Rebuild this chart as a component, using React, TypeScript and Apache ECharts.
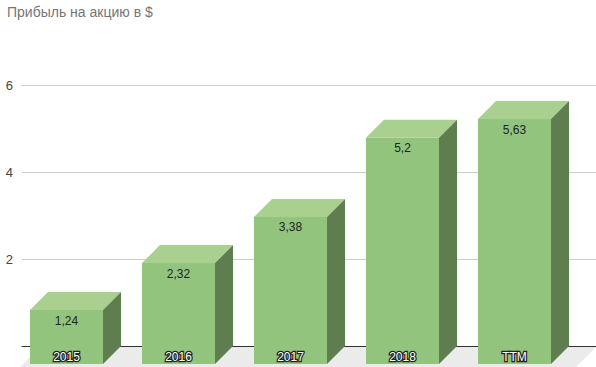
import React, { useEffect, useRef } from "react";
import * as echarts from "echarts";

const categories = ["2015", "2016", "2017", "2018", "TTM"];
const eps = [1.24, 2.32, 3.38, 5.2, 5.63];
const valueLabels = ["1,24", "2,32", "3,38", "5,2", "5,63"];
const yTicks = [0, 2, 4, 6];

const W = 596;
const H = 367;
const FONT = "Arial, 'Liberation Sans', sans-serif";
const DEPTH = 18;
const GRID_TOP = 85;
const GRID_BOTTOM = 21;
const FRONT = "#93c47d";
const TOP = "#a9d08f";
const SIDE = "#5e7e4f";

export default function App() {
  const ref = useRef<HTMLDivElement>(null);
  useEffect(() => {
    if (!ref.current) return;
    const chart = echarts.init(ref.current, undefined, { renderer: "svg" });
    const data = eps.map((v, i) => [i, v]);
    chart.setOption({
      animation: false,
      title: {
        text: "Прибыль на акцию в $",
        left: 2,
        top: 0,
        textStyle: { fontFamily: FONT, fontSize: 14, fontWeight: "normal", color: "#757575" },
      },
      grid: [
        { left: 22, right: 0, top: GRID_TOP, bottom: GRID_BOTTOM },
        { left: 10.5, right: 25.5, top: GRID_TOP, bottom: GRID_BOTTOM },
      ],
      xAxis: [
        {
          gridIndex: 0,
          type: "category",
          data: categories,
          axisLine: { show: true, lineStyle: { color: "#333333", width: 1 } },
          axisTick: { show: false },
          axisLabel: { show: false },
        },
        {
          gridIndex: 1,
          type: "category",
          data: categories,
          show: false,
        },
      ],
      yAxis: [
        {
          gridIndex: 0,
          type: "value",
          min: yTicks[0],
          max: yTicks[yTicks.length - 1],
          interval: 2,
          axisLine: { show: false },
          axisTick: { show: false },
          splitLine: { lineStyle: { color: "#cccccc", width: 1 } },
          axisLabel: {
            formatter: (v: number) => (v === 0 ? "" : String(v)),
            color: "#444444",
            fontFamily: FONT,
            fontSize: 13,
            margin: 9,
            padding: [14, 0, 0, 0],
          },
        },
        {
          gridIndex: 1,
          type: "value",
          min: yTicks[0],
          max: yTicks[yTicks.length - 1],
          interval: 2,
          show: false,
        },
      ],
      series: [
        {
          type: "custom",
          xAxisIndex: 1,
          yAxisIndex: 1,
          data,
          renderItem: (params: any, api: any) => {
            const idx = api.value(0);
            const v = api.value(1);
            const [cx, yTop] = api.coord([idx, v]);
            const [, y0] = api.coord([idx, 0]);
            const band = api.size([1, 0])[0];
            const w = band * 0.652;
            const d = DEPTH;
            const x0 = cx - w / 2;
            const x1 = cx + w / 2;
            const children: any[] = [];
            if (params.dataIndex === 0) {
              const left = 22;
              children.push({
                type: "polygon",
                shape: {
                  points: [
                    [left + d, y0 + 1],
                    [W, y0 + 1],
                    [W - 20, y0 + 21],
                    [left - 2, y0 + 21],
                  ],
                },
                style: { fill: "#ebebeb" },
              });
            }
            children.push({
              type: "rect",
              shape: { x: x0, y: yTop + d, width: w, height: y0 - yTop },
              style: { fill: FRONT },
            });
            children.push({
              type: "polygon",
              shape: {
                points: [
                  [x0, yTop + d],
                  [x1, yTop + d],
                  [x1 + d, yTop],
                  [x0 + d, yTop],
                ],
              },
              style: { fill: TOP },
            });
            children.push({
              type: "polygon",
              shape: {
                points: [
                  [x1, yTop + d],
                  [x1 + d, yTop],
                  [x1 + d, y0],
                  [x1, y0 + d],
                ],
              },
              style: { fill: SIDE },
            });
            children.push({
              type: "text",
              x: cx,
              y: yTop + d + 10.5,
              style: {
                text: valueLabels[params.dataIndex],
                fill: "#222222",
                font: `12px ${FONT}`,
                align: "center",
                verticalAlign: "middle",
              },
            });
            children.push({
              type: "text",
              x: cx,
              y: y0 + d - 7,
              style: {
                text: categories[params.dataIndex],
                fill: "#ffffff",
                stroke: "#222222",
                lineWidth: 2.5,
                font: `12px ${FONT}`,
                align: "center",
                verticalAlign: "middle",
              },
            });
            return { type: "group", children };
          },
        },
      ],
    });
    return () => chart.dispose();
  }, []);
  return (
    <div
      ref={ref}
      style={{ position: "fixed", left: 0, top: 0, width: W, height: H, background: "#fff" }}
    />
  );
}
